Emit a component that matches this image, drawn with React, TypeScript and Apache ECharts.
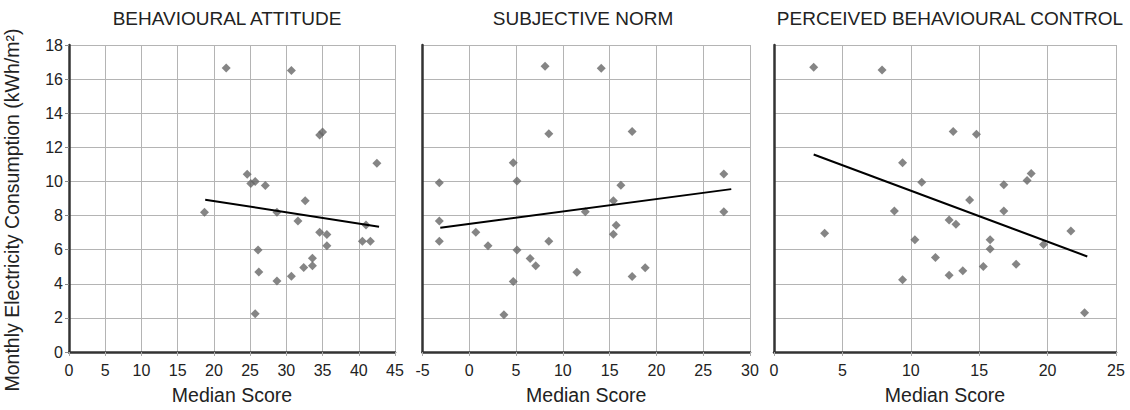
import React, { useEffect, useRef } from "react";
import * as echarts from "echarts";

const panelTitles = ["BEHAVIOURAL ATTITUDE", "SUBJECTIVE NORM", "PERCEIVED BEHAVIOURAL CONTROL"];
const yAxisName = "Monthly Electricity Consumption (kWh/m²)";
const xAxisName = "Median Score";

const baX = [21.7, 30.7, 34.6, 35.0, 42.5, 24.6, 25.1, 25.7, 27.1, 32.6, 18.7, 28.7, 31.6, 41.0, 34.6, 35.6, 35.6, 40.5, 41.6, 26.1, 33.6, 33.6, 32.4, 26.2, 28.7, 30.7, 25.7];
const baY = [16.65, 16.5, 12.73, 12.9, 11.07, 10.42, 9.88, 10.0, 9.76, 8.87, 8.2, 8.2, 7.68, 7.45, 7.02, 6.89, 6.23, 6.5, 6.5, 5.98, 5.5, 5.05, 4.96, 4.69, 4.17, 4.44, 2.24];

const snX = [8.1, 14.1, 8.5, 17.4, 4.7, -3.2, 5.1, 27.2, 16.2, 15.4, 12.4, 27.2, -3.2, 15.7, 0.7, 15.4, -3.2, 8.5, 2.0, 5.1, 6.5, 7.1, 11.5, 18.8, 17.4, 4.7, 3.7];
const snY = [16.75, 16.63, 12.79, 12.93, 11.09, 9.92, 10.03, 10.44, 9.78, 8.87, 8.22, 8.22, 7.68, 7.43, 7.02, 6.91, 6.5, 6.5, 6.23, 5.98, 5.48, 5.05, 4.67, 4.94, 4.42, 4.13, 2.18];

const pbcX = [2.9, 7.9, 13.1, 14.8, 9.4, 18.8, 10.8, 18.5, 16.8, 14.3, 8.8, 16.8, 12.8, 13.3, 3.7, 21.7, 10.3, 15.8, 15.8, 19.7, 11.8, 15.3, 17.7, 13.8, 12.8, 9.4, 22.7];
const pbcY = [16.69, 16.53, 12.93, 12.77, 11.09, 10.46, 9.96, 10.05, 9.8, 8.91, 8.26, 8.26, 7.74, 7.49, 6.96, 7.1, 6.58, 6.58, 6.04, 6.31, 5.54, 5.02, 5.15, 4.77, 4.5, 4.24, 2.3];

const baTrendX = [18.8, 42.8];
const baTrendY = [8.93, 7.35];
const snTrendX = [-3.1, 28.0];
const snTrendY = [7.29, 9.55];
const pbcTrendX = [2.9, 22.9];
const pbcTrendY = [11.58, 5.6];

const xRanges = [
  { min: 0, max: 45 },
  { min: -5, max: 30 },
  { min: 0, max: 25 },
];
const yRange = { min: 0, max: 18, interval: 2 };

const FONT = "'Liberation Sans', Arial, Helvetica, sans-serif";
const TEXT = "#222";

function zip(xs: number[], ys: number[]) {
  return xs.map((x, i) => [x, ys[i]]);
}

export default function App() {
  const ref = useRef<HTMLDivElement>(null);
  useEffect(() => {
    document.body.style.margin = "0";
    if (!ref.current) return;
    const chart = echarts.init(ref.current, undefined, { renderer: "svg" });

    const grids = [
      { left: 69, right: 735, top: 45, bottom: 53.5 },
      { left: 422.5, right: 380, top: 45, bottom: 53.5 },
      { left: 774, right: 14, top: 45, bottom: 53.5 },
    ];
    const titleCenters = [227, 583, 950];
    const scatter = [zip(baX, baY), zip(snX, snY), zip(pbcX, pbcY)];
    const trends = [zip(baTrendX, baTrendY), zip(snTrendX, snTrendY), zip(pbcTrendX, pbcTrendY)];

    const option: any = {
      animation: false,
      backgroundColor: "#fff",
      grid: grids,
      xAxis: xRanges.map((r, i) => ({
        type: "value",
        gridIndex: i,
        min: r.min,
        max: r.max,
        interval: 5,
        name: xAxisName,
        nameLocation: "middle",
        nameGap: 33,
        nameTextStyle: { fontFamily: FONT, fontSize: 19.5, color: TEXT },
        axisLine: { show: true, onZero: false, lineStyle: { color: "#333", width: 2.5 } },
        axisTick: { show: true, length: 4, lineStyle: { color: "#aaa", width: 1 } },
        axisLabel: { fontFamily: FONT, fontSize: 16, color: TEXT, margin: 10 },
        splitLine: { show: true, lineStyle: { color: "#b4b4b4", width: 1 } },
      })),
      yAxis: [0, 1, 2].map((i) => ({
        type: "value",
        gridIndex: i,
        min: yRange.min,
        max: yRange.max,
        interval: yRange.interval,
        axisLine: { show: true, onZero: false, lineStyle: { color: "#333", width: 2.5 } },
        axisTick: { show: i === 0, length: 4, lineStyle: { color: "#888", width: 1 } },
        axisLabel: { show: i === 0, fontFamily: FONT, fontSize: 16, color: TEXT, margin: 6 },
        splitLine: { show: true, lineStyle: { color: "#b4b4b4", width: 1 } },
      })),
      series: [
        ...scatter.map((d, i) => ({
          type: "scatter",
          xAxisIndex: i,
          yAxisIndex: i,
          data: d,
          symbol: "diamond",
          symbolSize: 9,
          itemStyle: { color: "#666" },
        })),
        ...trends.map((d, i) => ({
          type: "line",
          xAxisIndex: i,
          yAxisIndex: i,
          data: d,
          symbol: "none",
          lineStyle: { color: "#000", width: 2 },
        })),
      ],
      graphic: [
        ...panelTitles.map((t, i) => ({
          type: "text",
          x: titleCenters[i],
          y: 18,
          style: {
            text: t,
            fontFamily: FONT,
            fontSize: 19,
            fill: TEXT,
            align: "center",
            verticalAlign: "middle",
            textAlign: "center",
            textVerticalAlign: "middle",
          },
        })),
        {
          type: "text",
          x: 12,
          y: 210,
          rotation: Math.PI / 2,
          style: {
            text: yAxisName,
            fontFamily: FONT,
            fontSize: 19.5,
            fill: TEXT,
            align: "center",
            verticalAlign: "middle",
            textAlign: "center",
            textVerticalAlign: "middle",
          },
        },
      ],
    };
    chart.setOption(option);
    return () => chart.dispose();
  }, []);
  return <div ref={ref} style={{ width: 1130, height: 410 }} />;
}
